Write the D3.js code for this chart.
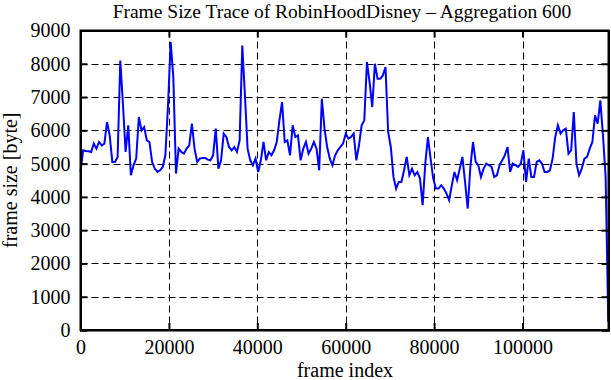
<!DOCTYPE html>
<html>
<head>
<meta charset="utf-8">
<script src="https://cdn.jsdelivr.net/npm/d3@7"></script>
<style>
  html, body { margin: 0; padding: 0; background: #fff; }
  svg { display: block; }
  svg text { font-family: "Liberation Serif", "DejaVu Serif", serif !important; fill: #000; }
</style>
</head>
<body>
<svg id="chart" width="611" height="380"></svg>
<script>
// ---- data ----
const title = "Frame Size Trace of RobinHoodDisney \u2013 Aggregation 600";
const xLabel = "frame index";
const yLabel = "frame size [byte]";
const aggregation = 600;
const xMax = 119450;
const xTicks = [0, 20000, 40000, 60000, 80000, 100000];
const yTicks = [0, 1000, 2000, 3000, 4000, 5000, 6000, 7000, 8000, 9000];
const frameSizes = [
  4750,5400,5380,5370,5350,5600,5450,5650,5550,5600,
  6250,5850,5050,5050,5200,8100,6800,5350,6150,4650,
  4950,5150,6400,6000,6100,5700,5650,5050,4850,4750,
  4800,4900,5250,6750,8650,7600,4700,5450,5350,5300,
  5450,5550,6200,5450,5050,5150,5170,5170,5120,5100,
  5250,6050,4850,5100,5900,5800,5500,5400,5500,5350,
  5700,8550,7050,5450,5100,4950,5150,4750,5100,5650,
  5100,5350,5250,5400,5650,6300,6850,5650,5700,5250,
  6150,5800,5850,5100,5450,5650,5300,5450,5650,5450,
  4800,6950,6050,5500,5150,4950,5250,5400,5500,5600,
  5900,5750,5800,5900,5100,5550,6150,6300,8050,7450,
  6700,8000,7550,7550,7650,7900,5950,5500,4600,4250,
  4450,4450,4800,5200,4650,4850,4650,4750,4550,3750,
  5000,5800,5150,4550,4250,4250,4350,4250,4100,3900,
  4350,4750,4500,4850,5200,4450,3650,4900,5650,5050,
  4950,4600,4850,5000,4950,4900,4600,4650,4950,5100,
  5250,5500,4750,5000,4950,4900,5000,5400,4450,5150,
  4600,4600,5050,5100,5000,4750,4750,4800,5150,5800,
  6150,5900,6000,6050,5300,5400,6550,5000,4650,4850,
  5150,5200,5450,5650,6450,6200,6900,5850,4600,250
];

// ---- layout ----
const svg = d3.select("#chart");
const W = 611, H = 380;
const m = { left: 80.5, right: W - 608.5, top: 30.5, bottom: H - 330 };
const x = d3.scaleLinear().domain([0, xMax]).range([m.left, W - m.right]);
const y = d3.scaleLinear().domain([0, 9000]).range([H - m.bottom, m.top]);

const data = frameSizes.map((v, i) => ({ f: i * aggregation, v }));

// grid
const grid = svg.append("g").attr("stroke", "#000").attr("stroke-width", 1)
  .attr("stroke-dasharray", "7,4").attr("fill", "none");
grid.selectAll("line.v").data(xTicks.filter(t => t > 0)).join("line")
  .attr("class", "v")
  .attr("x1", d => Math.round(x(d)) + 0.5).attr("x2", d => Math.round(x(d)) + 0.5)
  .attr("y1", y(9000)).attr("y2", y(0));
grid.selectAll("line.h").data(yTicks.filter(t => t > 0 && t < 9000)).join("line")
  .attr("class", "h")
  .attr("y1", d => Math.round(y(d)) + 0.5).attr("y2", d => Math.round(y(d)) + 0.5)
  .attr("x1", x(0)).attr("x2", x(xMax));

// line
svg.append("path").datum(data)
  .attr("fill", "none").attr("stroke", "#0000ff").attr("stroke-width", 2)
  .attr("stroke-linejoin", "miter")
  .attr("d", d3.line().x(d => x(d.f)).y(d => y(d.v)));

// axes (inward ticks on all sides)
const tl = 7;
const fmt = d3.format("d");
svg.append("g").attr("transform", `translate(0,${y(0)})`)
  .call(d3.axisBottom(x).tickValues(xTicks).tickSize(-tl).tickPadding(10).tickFormat(fmt));
svg.append("g").attr("transform", `translate(0,${y(9000)})`)
  .call(d3.axisTop(x).tickValues(xTicks).tickSize(-tl).tickFormat(""));
svg.append("g").attr("transform", `translate(${x(0)},0)`)
  .call(d3.axisLeft(y).tickValues(yTicks).tickSize(-tl).tickPadding(10).tickFormat(fmt));
svg.append("g").attr("transform", `translate(${x(xMax)},0)`)
  .call(d3.axisRight(y).tickValues(yTicks).tickSize(-tl).tickFormat(""));

svg.selectAll("g").attr("font-family", null);
svg.selectAll(".domain").attr("stroke", "#000").attr("stroke-width", 2);
svg.selectAll(".tick line").attr("stroke", "#000").attr("stroke-width", 2);
svg.selectAll(".tick text").attr("font-size", 20)
  .style("font-family", "'Liberation Serif', serif");

// frame box
svg.append("rect").attr("x", x(0)).attr("y", y(9000))
  .attr("width", x(xMax) - x(0)).attr("height", y(0) - y(9000))
  .attr("fill", "none").attr("stroke", "#000").attr("stroke-width", 2);

// title & labels
svg.append("text").attr("x", 342).attr("y", 18).attr("text-anchor", "middle")
  .attr("font-size", 19.5).text(title);
svg.append("text").attr("x", 345).attr("y", 377).attr("text-anchor", "middle")
  .attr("font-size", 20).text(xLabel);
svg.append("text").attr("transform", `translate(17,${(y(0) + y(9000)) / 2}) rotate(-90)`)
  .attr("text-anchor", "middle").attr("font-size", 20).text(yLabel);
</script>
</body>
</html>
